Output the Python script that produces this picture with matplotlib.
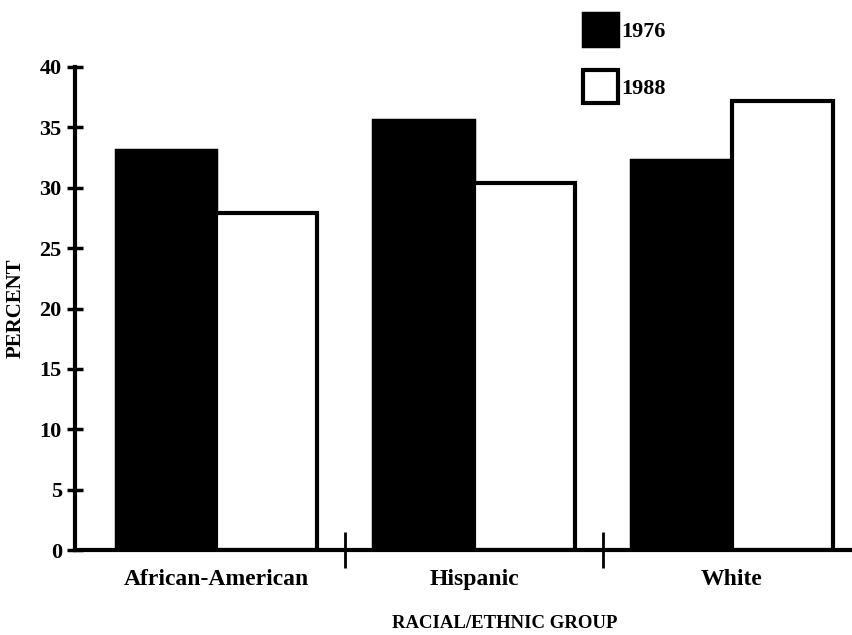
import matplotlib
matplotlib.use("Agg")
import matplotlib.pyplot as plt
import numpy as np

# values
groups = ["African-American", "Hispanic", "White"]
years = ["1976", "1988"]
pct_1976 = [33.1, 35.6, 32.3]
pct_1988 = [27.9, 30.4, 37.2]
y_ticks = [0, 5, 10, 15, 20, 25, 30, 35, 40]

plt.rcParams["font.family"] = ["Liberation Serif", "DejaVu Serif"]
plt.rcParams["font.weight"] = "bold"

fig = plt.figure(figsize=(8.52, 6.35), dpi=100)
ax = fig.add_axes([75 / 852, 85 / 635, 777 / 852, 483 / 635])

x = np.arange(len(groups))
w = 0.39
b1 = ax.bar(x - w / 2, pct_1976, w, color="black", edgecolor="black", linewidth=2.5, label=years[0])
b2 = ax.bar(x + w / 2, pct_1988, w, color="white", edgecolor="black", linewidth=3, label=years[1])

ax.set_ylim(0, 40)
ax.set_xlim(-0.547, 2.465)
for s in ["top", "right"]:
    ax.spines[s].set_visible(False)
ax.spines["left"].set_linewidth(3)
ax.spines["bottom"].set_linewidth(3)

ax.set_yticks(y_ticks)
ax.set_yticklabels([str(t) for t in y_ticks], fontsize=16, fontweight="bold")
ax.tick_params(axis="y", direction="inout", length=11, width=2.5, pad=4)

ax.set_xticks(x)
ax.set_xticklabels(groups, fontsize=17, fontweight="bold")
ax.tick_params(axis="x", which="major", length=0, pad=14)
ax.set_xticks([0.5, 1.5], minor=True)
ax.tick_params(axis="x", which="minor", direction="inout", length=26, width=2)

ax.set_xlabel("RACIAL/ETHNIC GROUP", fontsize=13.5, fontweight="bold")
ax.xaxis.set_label_coords(0.553, -0.135)
ax.set_ylabel("PERCENT", fontsize=15, fontweight="bold", labelpad=10)

ax.legend(handles=[b1, b2], loc="upper left", bbox_to_anchor=(570 / 852, 1.0),
          bbox_transform=fig.transFigure, frameon=False,
          handlelength=1.55, handleheight=1.9, handletextpad=0.15,
          labelspacing=1.08, borderaxespad=0.2,
          prop={"weight": "bold", "size": 16})

fig.savefig("out.png", dpi=100)
